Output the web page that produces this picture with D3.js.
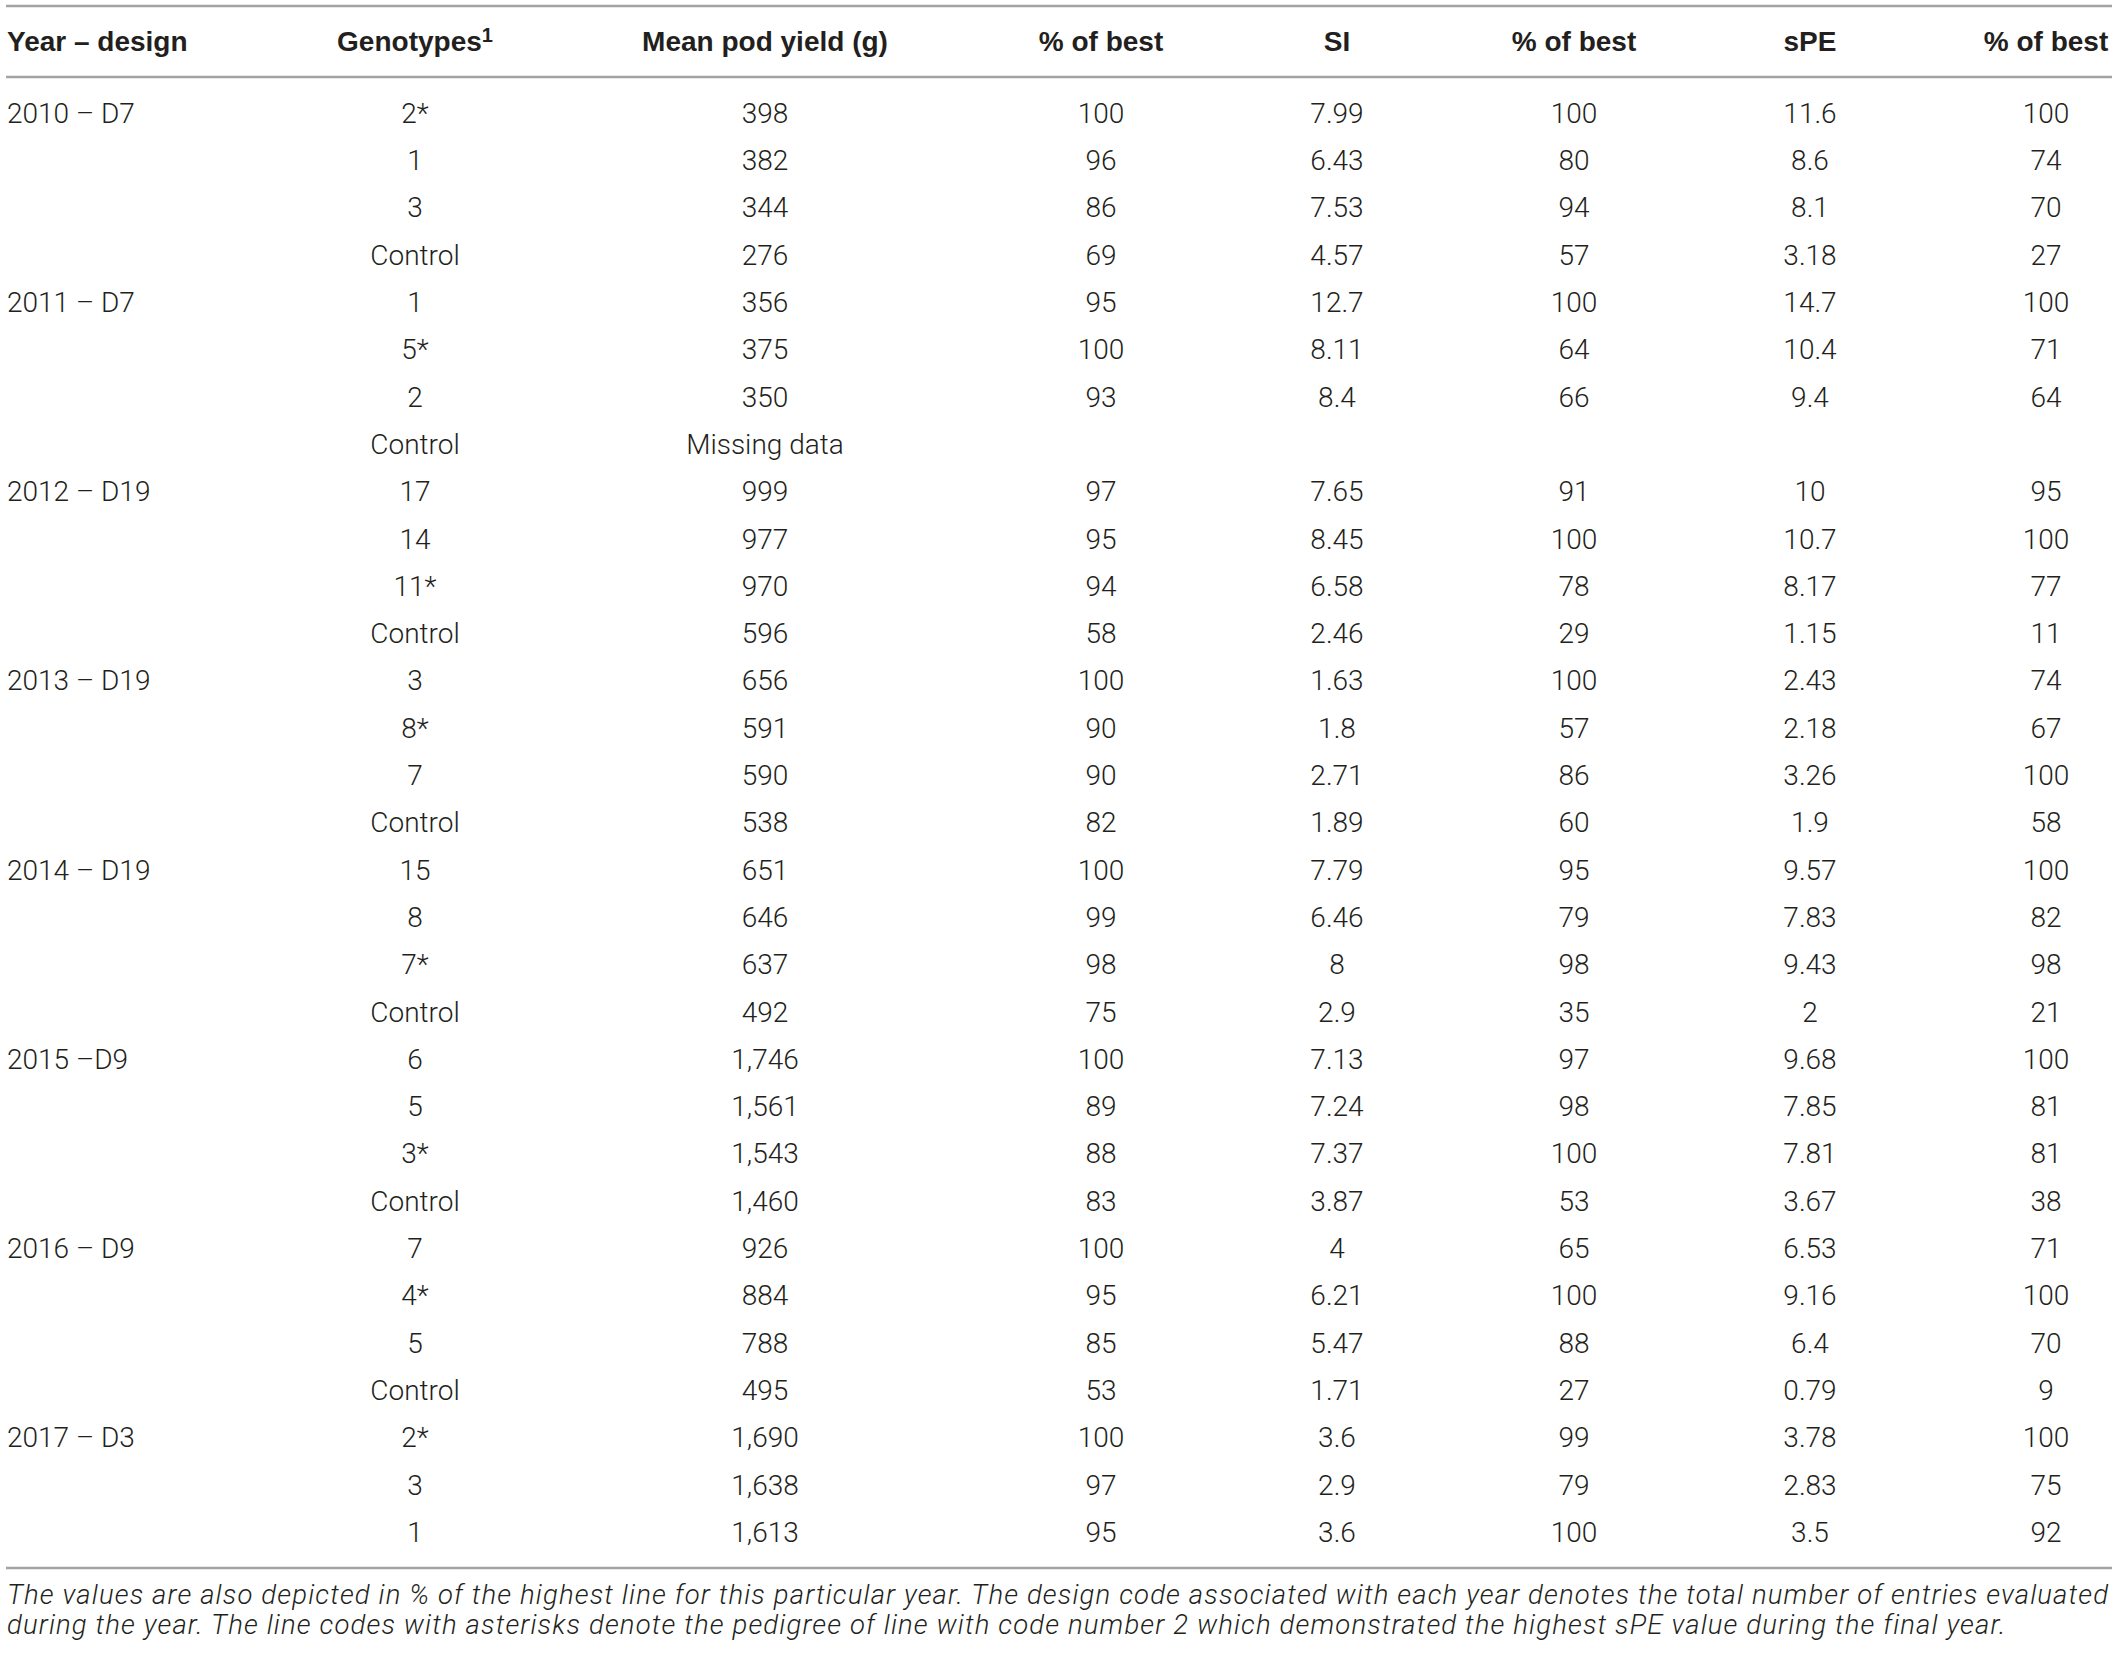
<!DOCTYPE html>
<html>
<head>
<meta charset="utf-8">
<script src="https://cdn.jsdelivr.net/npm/d3@7"></script>
<style>
  html, body { margin: 0; padding: 0; background: #ffffff; }
  svg { display: block; }
</style>
</head>
<body>
<svg id="chart"></svg>
<script>
// ---------------- DATA ----------------
const headers = ["Year – design", "Genotypes", "Mean pod yield (g)", "% of best", "SI", "% of best", "sPE", "% of best"];
const yearLabels = ["2010 – D7", "2011 – D7", "2012 – D19", "2013 – D19", "2014 – D19", "2015 –D9", "2016 – D9", "2017 – D3"];
const groupSizes = [4, 4, 4, 4, 4, 4, 4, 3];
const genotypes = ["2*","1","3","Control", "1","5*","2","Control", "17","14","11*","Control", "3","8*","7","Control",
                   "15","8","7*","Control", "6","5","3*","Control", "7","4*","5","Control", "2*","3","1"];
const meanPodYield = ["398","382","344","276", "356","375","350","Missing data", "999","977","970","596", "656","591","590","538",
                      "651","646","637","492", "1,746","1,561","1,543","1,460", "926","884","788","495", "1,690","1,638","1,613"];
const pctYield = ["100","96","86","69", "95","100","93","", "97","95","94","58", "100","90","90","82",
                  "100","99","98","75", "100","89","88","83", "100","95","85","53", "100","97","95"];
const siValues = ["7.99","6.43","7.53","4.57", "12.7","8.11","8.4","", "7.65","8.45","6.58","2.46", "1.63","1.8","2.71","1.89",
                  "7.79","6.46","8","2.9", "7.13","7.24","7.37","3.87", "4","6.21","5.47","1.71", "3.6","2.9","3.6"];
const pctSI = ["100","80","94","57", "100","64","66","", "91","100","78","29", "100","57","86","60",
               "95","79","98","35", "97","98","100","53", "65","100","88","27", "99","79","100"];
const speValues = ["11.6","8.6","8.1","3.18", "14.7","10.4","9.4","", "10","10.7","8.17","1.15", "2.43","2.18","3.26","1.9",
                   "9.57","7.83","9.43","2", "9.68","7.85","7.81","3.67", "6.53","9.16","6.4","0.79", "3.78","2.83","3.5"];
const pctSPE = ["100","74","70","27", "100","71","64","", "95","100","77","11", "74","67","100","58",
                "100","82","98","21", "100","81","81","38", "71","100","70","9", "100","75","92"];
const footnote = [
  "The values are also depicted in % of the highest line for this particular year. The design code associated with each year denotes the total number of entries evaluated",
  "during the year. The line codes with asterisks denote the pedigree of line with code number 2 which demonstrated the highest sPE value during the final year."
];

// ---------------- LAYOUT ----------------
const W = 2118, H = 1653;
const textColor = "#231f20";
const ruleColor = "#a3a3a3";
const fontData = "Roboto, 'Liberation Sans', Arial, sans-serif";
const fontHead = "'Liberation Sans', Arial, Helvetica, sans-serif";

const svg = d3.select("#chart").attr("width", W).attr("height", H);

const columnKeys = d3.range(headers.length);
const colX = d3.scaleOrdinal().domain(columnKeys).range([7, 415, 765, 1101, 1337, 1574, 1810, 2046]);
const colAnchor = k => (k === 0 ? "start" : "middle");

const nRows = genotypes.length;
const rowY = d3.scaleLinear().domain([0, nRows - 1]).range([113, 1532]);

// rules
const rules = [6, 77, 1568];
svg.selectAll("line.rule").data(rules).enter().append("line")
  .attr("class", "rule")
  .attr("x1", 6).attr("x2", 2112)
  .attr("y1", d => d).attr("y2", d => d)
  .attr("stroke", ruleColor).attr("stroke-width", 2.5);

// header
const head = svg.append("g").attr("font-family", fontHead).attr("font-weight", "bold")
  .attr("font-size", 28).attr("fill", textColor);
headers.forEach((h, k) => {
  const t = head.append("text")
    .attr("x", colX(k)).attr("y", 41).attr("dy", "0.35em")
    .attr("text-anchor", colAnchor(k))
    .text(h);
  if (k === 1) {
    t.append("tspan").attr("dy", "-0.42em").attr("font-size", 20).text("1");
  }
});

// year labels
const yearStart = [];
groupSizes.reduce((acc, n) => { yearStart.push(acc); return acc + n; }, 0);

const body = svg.append("g").attr("font-family", fontData).attr("font-weight", 300)
  .attr("font-size", 28).attr("fill", textColor);

body.selectAll("text.year").data(yearLabels).enter().append("text")
  .attr("class", "year")
  .attr("x", colX(0)).attr("y", (d, i) => rowY(yearStart[i])).attr("dy", "0.35em")
  .attr("text-anchor", "start")
  .text(d => d);

const columns = [genotypes, meanPodYield, pctYield, siValues, pctSI, speValues, pctSPE];
columns.forEach((col, ci) => {
  const k = ci + 1;
  body.selectAll("text.c" + k).data(col).enter().append("text")
    .attr("class", "c" + k)
    .attr("x", colX(k)).attr("y", (d, i) => rowY(i)).attr("dy", "0.35em")
    .attr("text-anchor", "middle")
    .text(d => d);
});

// footnote
const foot = svg.append("g").attr("font-family", fontData).attr("font-weight", 300)
  .attr("font-style", "italic").attr("font-size", 27.5).attr("fill", textColor);
const footTexts = foot.selectAll("text").data(footnote).enter().append("text")
  .attr("x", 7).attr("y", (d, i) => 1604 + i * 29.5)
  .text(d => d);
// fit the first line to the table width, apply same tracking to the second line
const firstNode = footTexts.nodes()[0];
const natural = firstNode.getComputedTextLength();
const targetWidth = 2108 - 7;
const ls = Math.max(0, (targetWidth - natural) / (footnote[0].length - 1));
footTexts.attr("letter-spacing", ls.toFixed(3) + "px");
</script>
</body>
</html>
